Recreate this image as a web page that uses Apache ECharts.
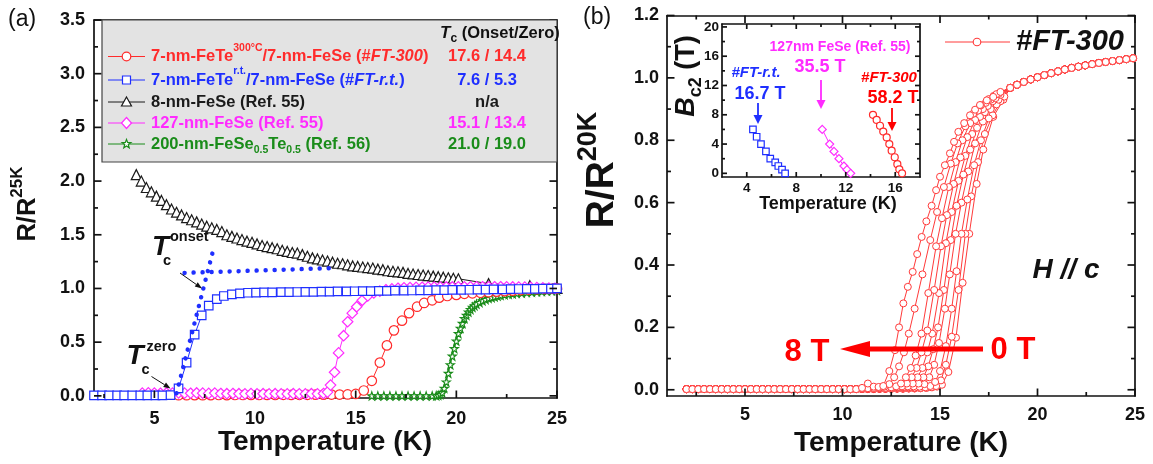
<!DOCTYPE html>
<html>
<head>
<meta charset="utf-8">
<script src="https://cdn.jsdelivr.net/npm/echarts@6/dist/echarts.min.js"></script>
<style>
  html, body { margin: 0; padding: 0; background: #fff; }
  #chart { width: 1153px; height: 464px; }
</style>
</head>
<body>
<div id="chart"></div>
<script>
// ---------- panel (a): R/R(25 K) versus temperature ----------
const ft300 = [[6.2,0.006],[6.6,0.006],[7.0,0.007],[7.4,0.006],[7.8,0.007],[8.2,0.008],[8.6,0.007],[9.0,0.008],[9.4,0.008],[9.8,0.009],[10.2,0.008],[10.6,0.009],[11.0,0.009],[11.4,0.01],[11.8,0.009],[12.2,0.01],[12.6,0.01],[13.0,0.011],[13.4,0.011],[13.8,0.012],[14.2,0.012],[14.6,0.013],[15.0,0.018],[15.4,0.05],[15.8,0.14],[16.2,0.31],[16.55,0.47],[16.9,0.61],[17.3,0.70],[17.65,0.77],[18.05,0.83],[18.4,0.865],[18.8,0.89],[19.15,0.915],[19.55,0.93],[20.0,0.94],[20.4,0.95],[20.8,0.955],[21.2,0.96],[21.6,0.965],[22.0,0.97],[22.4,0.975],[22.8,0.98],[23.2,0.985],[23.6,0.99],[24.0,0.993],[24.4,0.996],[24.8,0.998],[25.0,1.0]];
const ftrt = [[2.0,0.005],[2.4,0.005],[2.75,0.005],[3.15,0.005],[3.5,0.005],[3.9,0.005],[4.3,0.005],[4.65,0.005],[5.05,0.005],[5.4,0.005],[5.8,0.006],[6.2,0.07],[6.6,0.31],[7.0,0.57],[7.35,0.75],[7.7,0.84],[8.1,0.9],[8.45,0.93],[8.85,0.945],[9.25,0.955],[9.65,0.96],[10.05,0.962],[10.45,0.963],[10.85,0.964],[11.3,0.965],[11.7,0.966],[12.1,0.967],[12.5,0.968],[12.9,0.969],[13.3,0.97],[13.7,0.971],[14.1,0.972],[14.55,0.973],[14.95,0.974],[15.35,0.975],[15.75,0.976],[16.15,0.977],[16.55,0.978],[16.95,0.979],[17.4,0.98],[17.8,0.981],[18.2,0.982],[18.6,0.983],[19.0,0.984],[19.4,0.985],[19.8,0.986],[20.25,0.987],[20.65,0.988],[21.05,0.989],[21.45,0.99],[21.85,0.991],[22.3,0.992],[22.7,0.993],[23.1,0.995],[23.5,0.996],[23.9,0.997],[24.3,0.998],[24.7,0.999],[25.0,1.0]];
const fese8 = [[4.1,2.06],[4.35,2.0],[4.6,1.94],[4.85,1.9],[5.1,1.86],[5.35,1.82],[5.6,1.78],[5.85,1.74],[6.1,1.71],[6.35,1.685],[6.6,1.66],[6.85,1.64],[7.1,1.62],[7.35,1.6],[7.6,1.58],[7.85,1.565],[8.1,1.55],[8.35,1.53],[8.6,1.5],[8.85,1.485],[9.1,1.47],[9.35,1.455],[9.6,1.44],[9.85,1.43],[10.1,1.415],[10.35,1.4],[10.6,1.39],[10.85,1.38],[11.1,1.37],[11.35,1.355],[11.6,1.345],[11.85,1.335],[12.1,1.33],[12.35,1.315],[12.6,1.3],[12.85,1.285],[13.1,1.275],[13.35,1.265],[13.6,1.255],[13.85,1.245],[14.1,1.235],[14.35,1.23],[14.6,1.22],[14.85,1.21],[15.1,1.205],[15.35,1.2],[15.6,1.195],[15.85,1.19],[16.1,1.18],[16.35,1.175],[16.6,1.165],[16.85,1.16],[17.1,1.155],[17.35,1.15],[17.6,1.14],[17.85,1.135],[18.1,1.13],[18.35,1.125],[18.6,1.12],[18.85,1.115],[19.1,1.11],[19.35,1.105],[19.6,1.1],[19.85,1.095],[20.1,1.09],[21.6,1.045],[23.65,1.026],[25.0,1.0]];
const fese127 = [[4.4,0.025],[4.7,0.028],[5.0,0.026],[5.3,0.024],[5.6,0.027],[5.9,0.025],[6.2,0.028],[6.5,0.026],[6.8,0.024],[7.1,0.027],[7.4,0.025],[7.7,0.023],[8.0,0.026],[8.3,0.022],[8.6,0.02],[8.9,0.022],[9.2,0.02],[9.5,0.019],[9.8,0.021],[10.1,0.019],[10.4,0.02],[10.7,0.018],[11.0,0.02],[11.3,0.019],[11.6,0.018],[11.9,0.02],[12.2,0.019],[12.5,0.018],[12.8,0.02],[13.1,0.019],[13.4,0.022],[13.6,0.035],[13.75,0.10],[13.95,0.22],[14.15,0.40],[14.4,0.56],[14.6,0.69],[14.83,0.77],[15.05,0.83],[15.33,0.89],[15.6,0.93],[15.9,0.958],[16.2,0.975],[16.5,0.988],[16.8,0.996],[17.1,1.002],[17.4,1.006],[17.7,1.008],[18.0,1.01],[18.3,1.011],[18.6,1.012],[18.9,1.013],[19.2,1.013],[19.5,1.014],[19.8,1.014],[20.1,1.015],[20.4,1.015],[20.7,1.015],[21.0,1.016],[21.3,1.016],[21.6,1.016],[21.9,1.016],[22.2,1.016],[22.5,1.015],[22.8,1.014],[23.1,1.013],[23.4,1.012],[23.7,1.01],[24.0,1.008],[24.3,1.006],[24.6,1.003],[24.9,1.0]];
const fst200 = [[15.8,0],[16.1,0],[16.4,0],[16.7,0],[17.0,0],[17.3,0],[17.6,0],[17.9,0],[18.2,0],[18.5,0],[18.8,0],[19.0,0.002],[19.1,0.005],[19.2,0.012],[19.3,0.03],[19.4,0.07],[19.5,0.13],[19.6,0.21],[19.7,0.29],[19.8,0.37],[19.9,0.44],[20.0,0.51],[20.1,0.58],[20.2,0.63],[20.3,0.675],[20.4,0.72],[20.5,0.75],[20.6,0.78],[20.7,0.805],[20.8,0.825],[20.9,0.84],[21.0,0.855],[21.15,0.87],[21.3,0.885],[21.45,0.898],[21.6,0.908],[21.75,0.916],[21.9,0.923],[22.05,0.93],[22.2,0.936],[22.4,0.942],[22.6,0.947],[22.8,0.951],[23.0,0.955],[23.25,0.959],[23.5,0.963],[23.75,0.967],[24.0,0.97],[24.25,0.973],[24.5,0.976],[24.75,0.979],[25.0,0.982]];
// Tc(onset) construction for #FT-r.t.
const onsetSteep = [[6.1,0.024],[7.92,1.356]];
const onsetFlat = [[6.5,1.145],[13.9,1.19]];
const tcOnsetZero = ['17.6 / 14.4', '7.6 / 5.3', 'n/a', '15.1 / 13.4', '21.0 / 19.0'];

// ---------- panel (b): #FT-300, R/R(20 K) under field H // c ----------
const fieldLabels = ['0 T', '0.5 T', '1 T', '2 T', '3 T', '4 T', '5 T', '6 T', '7 T', '8 T'];
const lowTBase = [[2.0,0.002],[2.3,0.002],[2.6,0.002],[2.9,0.002],[3.2,0.002],[3.5,0.002],[3.8,0.002],[4.1,0.002],[4.4,0.002],[4.7,0.002],[5.0,0.002],[5.3,0.002],[5.6,0.002],[5.9,0.002],[6.2,0.002],[6.5,0.002],[6.8,0.002],[7.1,0.002],[7.4,0.002],[7.7,0.002],[8.0,0.002],[8.3,0.002],[8.6,0.002],[8.9,0.002],[9.2,0.002],[9.5,0.002],[9.8,0.002],[10.1,0.002],[10.4,0.002],[10.7,0.002]];
const rt0 = [[11.0,0.002],[11.3,0.002],[11.6,0.002],[11.9,0.003],[12.2,0.003],[12.5,0.003],[12.8,0.003],[13.1,0.003],[13.4,0.004],[13.7,0.004],[14.0,0.005],[14.3,0.006],[14.6,0.008],[14.85,0.01],[15.1,0.016],[15.43,0.057],[15.82,0.167],[16.16,0.343],[16.5,0.5],[16.88,0.66],[17.22,0.77],[17.73,0.875],[18.25,0.93]];
const rt05 = [[11.0,0.002],[11.3,0.002],[11.6,0.003],[11.9,0.003],[12.2,0.003],[12.5,0.003],[12.8,0.004],[13.1,0.004],[13.4,0.004],[13.7,0.005],[14.0,0.005],[14.3,0.006],[14.55,0.008],[14.8,0.012],[15.05,0.03],[15.3,0.08],[15.6,0.17],[15.95,0.32],[16.3,0.5],[16.6,0.62],[16.95,0.73],[17.3,0.82],[17.7,0.88],[18.1,0.925]];
const rt1 = [[11.0,0.002],[11.3,0.003],[11.6,0.003],[11.9,0.003],[12.2,0.003],[12.5,0.004],[12.8,0.004],[13.1,0.004],[13.4,0.005],[13.7,0.005],[14.0,0.006],[14.25,0.008],[14.5,0.012],[14.75,0.025],[15.0,0.06],[15.3,0.14],[15.6,0.26],[15.85,0.38],[16.1,0.5],[16.4,0.61],[16.75,0.72],[17.1,0.8],[17.5,0.87],[17.9,0.915],[18.3,0.94]];
const rt2 = [[11.0,0.003],[11.3,0.003],[11.6,0.003],[11.9,0.004],[12.2,0.004],[12.5,0.004],[12.8,0.005],[13.1,0.005],[13.4,0.006],[13.7,0.007],[13.95,0.01],[14.2,0.018],[14.45,0.04],[14.7,0.08],[14.95,0.15],[15.25,0.26],[15.5,0.37],[15.8,0.5],[16.1,0.6],[16.45,0.7],[16.8,0.79],[17.2,0.86],[17.6,0.9],[18.0,0.93]];
const rt3 = [[11.0,0.003],[11.3,0.003],[11.6,0.004],[11.9,0.004],[12.2,0.004],[12.5,0.005],[12.8,0.005],[13.1,0.006],[13.4,0.008],[13.65,0.011],[13.9,0.02],[14.15,0.04],[14.4,0.075],[14.65,0.13],[14.9,0.2],[15.2,0.32],[15.55,0.48],[15.85,0.59],[16.2,0.69],[16.55,0.77],[16.9,0.84],[17.3,0.89],[17.7,0.925],[18.1,0.945]];
const rt4 = [[11.0,0.003],[11.3,0.004],[11.6,0.004],[11.9,0.004],[12.2,0.005],[12.5,0.005],[12.8,0.006],[13.1,0.008],[13.35,0.011],[13.6,0.02],[13.85,0.04],[14.1,0.07],[14.35,0.12],[14.6,0.18],[14.95,0.31],[15.3,0.47],[15.6,0.57],[15.95,0.67],[16.3,0.75],[16.65,0.82],[17.05,0.875],[17.45,0.91],[17.85,0.935]];
const rt5 = [[11.0,0.003],[11.3,0.004],[11.6,0.004],[11.9,0.005],[12.2,0.005],[12.5,0.006],[12.8,0.008],[13.05,0.011],[13.3,0.02],[13.55,0.04],[13.8,0.07],[14.05,0.12],[14.35,0.19],[14.7,0.32],[15.05,0.46],[15.35,0.56],[15.7,0.66],[16.05,0.745],[16.4,0.81],[16.8,0.865],[17.2,0.9],[17.6,0.93],[18.0,0.948]];
const rt6 = [[11.0,0.004],[11.3,0.004],[11.6,0.005],[11.9,0.005],[12.2,0.006],[12.5,0.008],[12.75,0.011],[13.0,0.02],[13.25,0.04],[13.5,0.07],[13.75,0.11],[14.05,0.18],[14.4,0.31],[14.8,0.46],[15.1,0.55],[15.45,0.65],[15.8,0.73],[16.15,0.8],[16.55,0.855],[16.95,0.895],[17.35,0.92],[17.75,0.942]];
const rt7 = [[11.0,0.004],[11.3,0.005],[11.6,0.006],[11.9,0.007],[12.15,0.01],[12.4,0.018],[12.65,0.04],[12.9,0.075],[13.15,0.12],[13.4,0.18],[13.7,0.26],[14.1,0.37],[14.5,0.48],[14.85,0.57],[15.2,0.65],[15.55,0.725],[15.9,0.79],[16.3,0.845],[16.7,0.885],[17.1,0.912],[17.5,0.932],[17.9,0.948]];
const rt8 = [[11.0,0.006],[11.3,0.02],[11.6,0.01],[11.85,0.009],[12.09,0.012],[12.4,0.06],[12.69,0.127],[12.9,0.2],[13.12,0.277],[13.35,0.33],[13.6,0.378],[13.83,0.435],[14.06,0.49],[14.3,0.54],[14.57,0.59],[14.8,0.64],[15.0,0.683],[15.25,0.72],[15.51,0.758],[15.72,0.795],[15.94,0.827],[16.24,0.855],[16.54,0.88],[16.8,0.898],[17.05,0.913],[17.4,0.928],[17.73,0.939],[18.1,0.955]];
const highTTail = [[18.6,0.968],[18.95,0.978],[19.3,0.987],[19.65,0.995],[20.0,1.002],[20.35,1.009],[20.7,1.015],[21.05,1.021],[21.4,1.027],[21.75,1.032],[22.1,1.036],[22.45,1.04],[22.8,1.044],[23.15,1.048],[23.5,1.051],[23.85,1.054],[24.2,1.057],[24.55,1.06],[24.9,1.063]];
const fieldCurves = [rt0, rt05, rt1, rt2, rt3, rt4, rt5, rt6, rt7, rt8];

// ---------- inset: upper critical field Bc2 versus temperature ----------
const bc2FTrt = [[4.5,6],[4.8,5],[5.15,4],[5.55,3],[5.9,2],[6.3,1.5],[6.55,1],[6.85,0.5],[7.1,0]];
const bc2Fese127 = [[10.1,6],[10.7,4],[11.05,3],[11.45,2],[11.85,1],[12.1,0.5],[12.4,0]];
const bc2FT300 = [[14.2,8],[14.5,7.3],[14.77,6.5],[15.03,5.7],[15.31,4.9],[15.52,4],[15.71,3.1],[15.96,2.2],[16.17,1.25],[16.33,0.55],[16.55,0]];

// ---------- axis ranges and tick positions ----------
const rangeA = { x: [2, 25], y: [-0.02, 3.5] };
const rangeB = { x: [1, 25], y: [-0.02, 1.2] };
const rangeC = { x: [2, 18], y: [-0.5, 20.4] };
const tempTicks = [5, 10, 15, 20, 25];
const tempMinor = [2.5, 7.5, 12.5, 17.5, 22.5];
const ratioTicksA = [0, 0.5, 1, 1.5, 2, 2.5, 3, 3.5];
const ratioMinorA = [0.25, 0.75, 1.25, 1.75, 2.25, 2.75, 3.25];
const ratioTicksB = [0, 0.2, 0.4, 0.6, 0.8, 1.0, 1.2];
const ratioMinorB = [0.1, 0.3, 0.5, 0.7, 0.9, 1.1];
const insetTempTicks = [4, 8, 12, 16];
const insetTempMinor = [6, 10, 14];
const insetFieldTicks = [0, 4, 8, 12, 16, 20];
const insetFieldMinor = [2, 6, 10, 14, 18];

// ---------- styling ----------
const FONT = '"Liberation Sans", Arial, Helvetica, sans-serif';
const INK = '#111';
const RED = '#ff2b2b';
const BLUE = '#1f2fff';
const MAG = '#ff2bff';
const GREEN = '#1a8c1a';
const BLACK = '#1a1a1a';
const STAR = 'path://M0,-10L2.35,-3.24L9.51,-3.09L3.8,1.24L5.88,8.09L0,4L-5.88,8.09L-3.8,1.24L-9.51,-3.09L-2.35,-3.24Z';

const grids = [
  { left: 94, top: 20, width: 463, height: 378, show: false },
  { left: 667, top: 15.5, width: 468, height: 380.5, show: false },
  { left: 722, top: 24, width: 198, height: 153, show: true, backgroundColor: '#fff', borderWidth: 0 }
];

const xAxes = [], yAxes = [];
// framed axis pair: labelled side plus a bare mirrored side
function addAxes(list, gi, range, labels, pos, opp, label) {
  const frame = { show: true, onZero: false, lineStyle: { color: INK, width: 1.7 } };
  const base = () => ({ gridIndex: gi, type: 'value', min: range[0], max: range[1],
    axisLine: frame, axisTick: { show: false }, splitLine: { show: false } });
  const idx = list.length;
  list.push(Object.assign(base(), { position: pos,
    axisLabel: Object.assign({ show: true, customValues: labels, color: INK, fontFamily: FONT, fontWeight: 'bold' }, label) }));
  list.push(Object.assign(base(), { position: opp, axisLabel: { show: false } }));
  return idx;
}
const oneDec = v => v.toFixed(1);
const xA = addAxes(xAxes, 0, rangeA.x, tempTicks, 'bottom', 'top', { fontSize: 18, margin: 12 });
const yA = addAxes(yAxes, 0, rangeA.y, ratioTicksA, 'left', 'right', { fontSize: 18, margin: 9, formatter: oneDec });
const xB = addAxes(xAxes, 1, rangeB.x, tempTicks, 'bottom', 'top', { fontSize: 18, margin: 10 });
const yB = addAxes(yAxes, 1, rangeB.y, ratioTicksB, 'left', 'right', { fontSize: 18, margin: 8, formatter: oneDec });
const xC = addAxes(xAxes, 2, rangeC.x, insetTempTicks, 'bottom', 'top', { fontSize: 13.5, margin: 4 });
const yC = addAxes(yAxes, 2, rangeC.y, insetFieldTicks, 'left', 'right', { fontSize: 13.5, margin: 3 });

function lineSeries(name, data, xi, yi, color, symbol, size, z) {
  return { name: name, type: 'line', data: data, xAxisIndex: xi, yAxisIndex: yi,
    symbol: symbol, symbolSize: size, showSymbol: true, z: z || 2,
    itemStyle: { color: '#fff', borderColor: color, borderWidth: 1.2 },
    lineStyle: { color: color, width: 1 }, emphasis: { disabled: true }, animation: false };
}
const series = [
  lineSeries('8-nm-FeSe', fese8, xA, yA, BLACK, 'triangle', 10),
  lineSeries('200-nm-FeSe0.5Te0.5', fst200, xA, yA, GREEN, STAR, 8),
  lineSeries('#FT-300', ft300, xA, yA, RED, 'circle', 9.5),
  lineSeries('127-nm-FeSe', fese127, xA, yA, MAG, 'diamond', 10.5),
  lineSeries('#FT-r.t.', ftrt, xA, yA, BLUE, 'rect', 8.5)
];
[onsetSteep, onsetFlat].forEach((seg, k) => series.push({
  name: 'onset-' + k, type: 'line', data: seg, xAxisIndex: xA, yAxisIndex: yA, symbol: 'none', z: 4,
  lineStyle: { color: BLUE, width: 4.5, type: [0.01, 9], cap: 'round' }, animation: false }));
fieldCurves.forEach((c, k) => {
  const s = lineSeries(fieldLabels[k], lowTBase.concat(c, highTTail), xB, yB, '#ff3a3a', 'circle', 7);
  s.itemStyle.borderWidth = 1;
  series.push(s);
});
series.push(lineSeries('Bc2 #FT-r.t.', bc2FTrt, xC, yC, BLUE, 'rect', 6.5, 5));
series.push(lineSeries('Bc2 127nm FeSe', bc2Fese127, xC, yC, MAG, 'diamond', 8, 5));
series.push(lineSeries('Bc2 #FT-300', bc2FT300, xC, yC, RED, 'circle', 7, 5));

// ---------- text, legend box and arrows ----------
function txt(x, y, text, opt) {
  return { type: 'text', x: x, y: y, z: 100, silent: true, rotation: opt.rotation || 0,
    style: Object.assign({ text: text, fill: INK, fontFamily: FONT, fontWeight: 'bold', fontSize: 16,
      align: 'left', verticalAlign: 'middle' }, opt.style || opt) };
}
function arrow(x1, y1, x2, y2, color, width, headLen, headW) {
  const dx = x2 - x1, dy = y2 - y1, L = Math.hypot(dx, dy), ux = dx / L, uy = dy / L;
  const bx = x2 - ux * headLen, by = y2 - uy * headLen;
  return [
    { type: 'line', z: 100, silent: true, shape: { x1: x1, y1: y1, x2: bx, y2: by }, style: { stroke: color, lineWidth: width } },
    { type: 'polygon', z: 100, silent: true, shape: { points: [[x2, y2], [bx - uy * headW, by + ux * headW], [bx + uy * headW, by - ux * headW]] }, style: { fill: color } }
  ];
}
function richRow(L) {
  return {
    n: { fontSize: 16.5, fontWeight: 'bold', lineHeight: L, verticalAlign: 'middle' },
    i: { fontSize: 16.5, fontWeight: 'bold', fontStyle: 'italic', lineHeight: L, verticalAlign: 'middle' },
    s: { fontSize: 10.5, fontWeight: 'bold', verticalAlign: 'top' },
    b: { fontSize: 10.5, fontWeight: 'bold', verticalAlign: 'bottom' }
  };
}
const legendRowsA = [
  { y: 56.5, color: RED, icon: 'circle', L: 28, text: '{n|7-nm-FeTe}{s|300°C}{n|/7-nm-FeSe (#}{i|FT-300}{n|)}' },
  { y: 80, color: BLUE, icon: 'rect', L: 28, text: '{n|7-nm-FeTe}{s|r.t.}{n|/7-nm-FeSe (#}{i|FT-r.t.}{n|)}' },
  { y: 102, color: BLACK, icon: 'triangle', L: 20, text: '{n|8-nm-FeSe (Ref. 55)}' },
  { y: 123, color: MAG, icon: 'diamond', L: 20, text: '{n|127-nm-FeSe (Ref. 55)}' },
  { y: 144, color: GREEN, icon: 'star', L: 24, text: '{n|200-nm-FeSe}{b|0.5}{n|Te}{b|0.5}{n| (Ref. 56)}' }
];
function icon(kind, cx, cy, color) {
  const st = { fill: '#fff', stroke: color, lineWidth: 1.2 };
  if (kind === 'circle') return { type: 'circle', z: 101, shape: { cx: cx, cy: cy, r: 4.3 }, style: st };
  if (kind === 'rect') return { type: 'rect', z: 101, shape: { x: cx - 4, y: cy - 4, width: 8, height: 8 }, style: st };
  if (kind === 'triangle') return { type: 'polygon', z: 101, shape: { points: [[cx, cy - 5], [cx + 5, cy + 4], [cx - 5, cy + 4]] }, style: st };
  if (kind === 'diamond') return { type: 'polygon', z: 101, shape: { points: [[cx, cy - 5.5], [cx + 5, cy], [cx, cy + 5.5], [cx - 5, cy]] }, style: st };
  const pts = [];
  for (let k = 0; k < 10; k++) {
    const r = k % 2 ? 1.9 : 4.6, a = -Math.PI / 2 + k * Math.PI / 5;
    pts.push([cx + r * Math.cos(a), cy + r * Math.sin(a)]);
  }
  return { type: 'polygon', z: 101, shape: { points: pts }, style: st };
}

const graphics = [];
graphics.push({ type: 'rect', z: 90, silent: true, shape: { x: 102, y: 20, width: 455, height: 142 },
  style: { fill: '#e3e3e3', stroke: '#444', lineWidth: 1.2 } });
legendRowsA.forEach((r, k) => {
  graphics.push({ type: 'line', z: 100, shape: { x1: 108, y1: r.y, x2: 145, y2: r.y }, style: { stroke: r.color, lineWidth: 1 } });
  graphics.push(icon(r.icon, 126.5, r.y, r.color));
  graphics.push(txt(151, r.y, r.text, { fill: r.color, rich: richRow(r.L) }));
  graphics.push(txt(487, r.y, tcOnsetZero[k], { fill: r.color, fontSize: 16.5, align: 'center' }));
});
graphics.push(txt(440, 33, '{t|T}{c|c}{n| (Onset/Zero)}', { rich: {
  t: { fontSize: 17, fontWeight: 'bold', fontStyle: 'italic', lineHeight: 24, verticalAlign: 'middle' },
  c: { fontSize: 12, fontWeight: 'bold', verticalAlign: 'bottom' },
  n: { fontSize: 16.5, fontWeight: 'bold', lineHeight: 24, verticalAlign: 'middle' } } }));

// Tc markers in panel (a)
graphics.push(txt(152, 247, 'T', { fontSize: 28, fontStyle: 'italic' }));
graphics.push(txt(170, 236.5, 'onset', { fontSize: 14.5 }));
graphics.push(txt(163, 261, 'c', { fontSize: 14.5 }));
graphics.push(txt(126.5, 356.5, 'T', { fontSize: 28, fontStyle: 'italic' }));
graphics.push(txt(146.5, 346.5, 'zero', { fontSize: 14.5 }));
graphics.push(txt(141.5, 370, 'c', { fontSize: 14.5 }));
graphics.push(...arrow(180, 273, 202, 288.5, INK, 1, 7, 2.6));
graphics.push(...arrow(151.5, 376.5, 170.5, 388.5, INK, 1, 7, 2.6));

// panel labels and axis titles
graphics.push(txt(8, 20, '(a)', { fontSize: 23, fontWeight: 'normal' }));
graphics.push(txt(583, 18, '(b)', { fontSize: 23, fontWeight: 'normal' }));
graphics.push(txt(325, 442, 'Temperature (K)', { fontSize: 28, align: 'center' }));
graphics.push(txt(901, 443, 'Temperature (K)', { fontSize: 28, align: 'center' }));
graphics.push(txt(27.5, 204, '', { rotation: Math.PI / 2, style: { text: '{m|R/R}{s|25K}',
  fill: INK, fontFamily: FONT, align: 'center', verticalAlign: 'middle', rich: {
    m: { fontSize: 25.5, fontWeight: 'bold', lineHeight: 37, verticalAlign: 'middle' },
    s: { fontSize: 17, fontWeight: 'bold', verticalAlign: 'top' } } } }));
graphics.push(txt(602, 170, '', { rotation: Math.PI / 2, style: { text: '{m|R/R}{s|20K}',
  fill: INK, fontFamily: FONT, align: 'center', verticalAlign: 'middle', rich: {
    m: { fontSize: 39, fontWeight: 'bold', lineHeight: 54, verticalAlign: 'middle' },
    s: { fontSize: 27, fontWeight: 'bold', verticalAlign: 'top' } } } }));

// panel (b) legend and annotations
graphics.push({ type: 'line', z: 100, shape: { x1: 945, y1: 42, x2: 1010, y2: 42 }, style: { stroke: '#ff3a3a', lineWidth: 1 } });
graphics.push({ type: 'circle', z: 101, shape: { cx: 977, cy: 42, r: 3.8 }, style: { fill: '#fff', stroke: '#ff3a3a', lineWidth: 1.1 } });
graphics.push(txt(1016, 42, '#FT-300', { fontSize: 29, fontStyle: 'italic' }));
graphics.push(txt(1066, 270, 'H // c', { fontSize: 28, fontStyle: 'italic', align: 'center' }));
graphics.push(...arrow(983, 349, 840, 349, '#ff0000', 5, 30, 8));
graphics.push(txt(807, 352, '8 T', { fontSize: 31, fill: '#ff0000', align: 'center' }));
graphics.push(txt(1013, 350, '0 T', { fontSize: 31, fill: '#ff0000', align: 'center' }));

// inset annotations
graphics.push(txt(687, 76, '', { rotation: Math.PI / 2, style: { text: '{b|B}{c|c2}{n| (T)}',
  fill: INK, fontFamily: FONT, align: 'center', verticalAlign: 'middle', rich: {
    b: { fontSize: 27, fontWeight: 'bold', fontStyle: 'italic', lineHeight: 36, verticalAlign: 'middle' },
    c: { fontSize: 18, fontWeight: 'bold', verticalAlign: 'bottom' },
    n: { fontSize: 27, fontWeight: 'bold', lineHeight: 36, verticalAlign: 'middle' } } } }));
graphics.push(txt(828, 204, 'Temperature (K)', { fontSize: 18, align: 'center' }));
graphics.push(txt(756, 73, '#FT-r.t.', { fontSize: 15, fontStyle: 'italic', fill: BLUE, align: 'center' }));
graphics.push(txt(760, 94, '16.7 T', { fontSize: 18, fill: BLUE, align: 'center' }));
graphics.push(...arrow(758, 103, 758, 124, BLUE, 1.8, 9, 4.5));
graphics.push(txt(840, 47, '127nm FeSe (Ref. 55)', { fontSize: 14, fill: MAG, align: 'center' }));
graphics.push(txt(820, 67.5, '35.5 T', { fontSize: 18, fill: MAG, align: 'center' }));
graphics.push(...arrow(821, 80, 821, 109, MAG, 1.8, 9, 4.5));
graphics.push(txt(889, 77.5, '#FT-300', { fontSize: 15, fontStyle: 'italic', fill: '#ff0000', align: 'center' }));
graphics.push(txt(893, 98, '58.2 T', { fontSize: 18, fill: '#ff0000', align: 'center' }));
graphics.push(...arrow(892, 108, 892, 131, '#ff0000', 1.8, 9, 4.5));

// inward tick marks on all four sides of each frame (drawn beneath the legend box)
function valueToPx(range, start, span, v, flip) {
  const f = (v - range[0]) / (range[1] - range[0]);
  return flip ? start + span * (1 - f) : start + span * f;
}
function tickMarks(gi, range, dim, values, len) {
  const g = grids[gi], out = [];
  const st = { stroke: INK, lineWidth: 1.7 };
  values.forEach(v => {
    if (dim === 'x') {
      const px = valueToPx(range, g.left, g.width, v, false);
      const b = g.top + g.height, t = g.top;
      out.push({ type: 'line', z: 80, silent: true, shape: { x1: px, y1: b, x2: px, y2: b - len }, style: st });
      out.push({ type: 'line', z: 80, silent: true, shape: { x1: px, y1: t, x2: px, y2: t + len }, style: st });
    } else {
      const py = valueToPx(range, g.top, g.height, v, true);
      const l = g.left, r = g.left + g.width;
      out.push({ type: 'line', z: 80, silent: true, shape: { x1: l, y1: py, x2: l + len, y2: py }, style: st });
      out.push({ type: 'line', z: 80, silent: true, shape: { x1: r, y1: py, x2: r - len, y2: py }, style: st });
    }
  });
  return out;
}
const ticks = [].concat(
  tickMarks(0, rangeA.x, 'x', tempTicks, 7.5), tickMarks(0, rangeA.x, 'x', tempMinor, 4),
  tickMarks(0, rangeA.y, 'y', ratioTicksA, 7.5), tickMarks(0, rangeA.y, 'y', ratioMinorA, 4),
  tickMarks(1, rangeB.x, 'x', tempTicks, 7.5), tickMarks(1, rangeB.x, 'x', tempMinor, 4),
  tickMarks(1, rangeB.y, 'y', ratioTicksB, 7.5), tickMarks(1, rangeB.y, 'y', ratioMinorB, 4),
  tickMarks(2, rangeC.x, 'x', insetTempTicks, 5), tickMarks(2, rangeC.x, 'x', insetTempMinor, 3),
  tickMarks(2, rangeC.y, 'y', insetFieldTicks, 5), tickMarks(2, rangeC.y, 'y', insetFieldMinor, 3)
);

const chart = echarts.init(document.getElementById('chart'), null, { renderer: 'canvas' });
chart.setOption({
  animation: false,
  backgroundColor: '#fff',
  textStyle: { fontFamily: FONT },
  grid: grids,
  xAxis: xAxes,
  yAxis: yAxes,
  series: series,
  graphic: { elements: graphics.concat(ticks) }
});
</script>
</body>
</html>
